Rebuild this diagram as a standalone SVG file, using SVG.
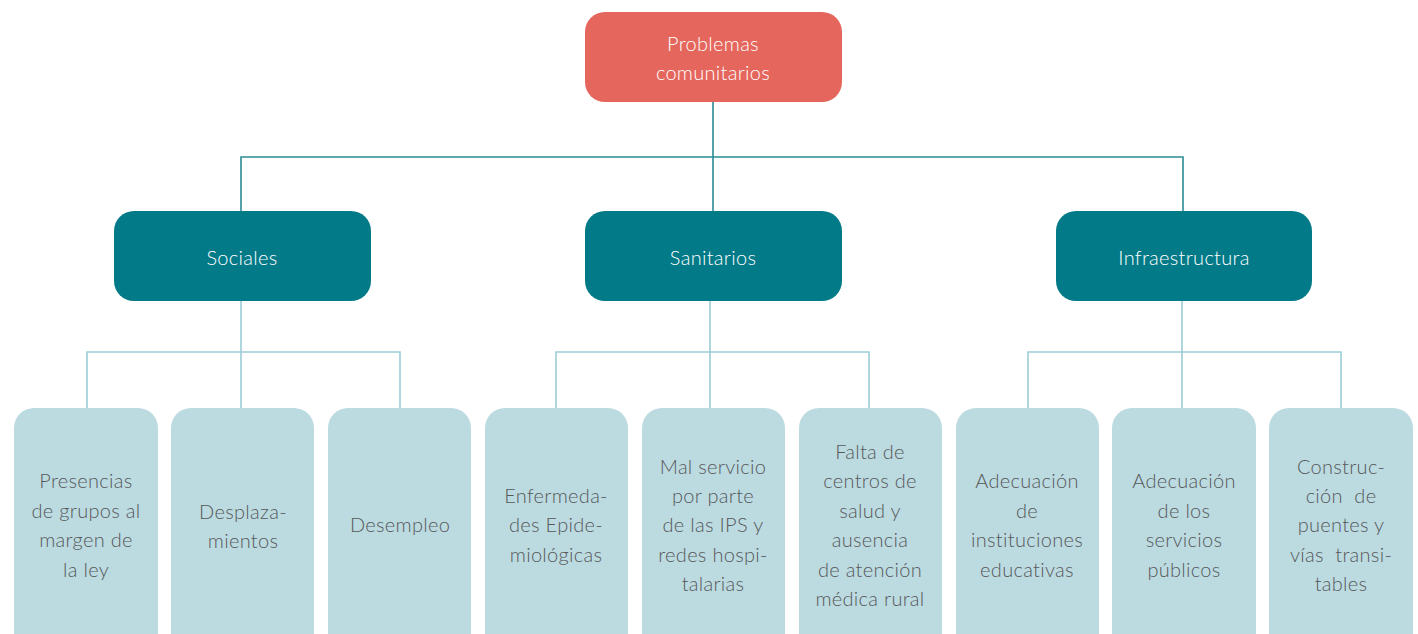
<svg xmlns="http://www.w3.org/2000/svg" width="1418" height="634" viewBox="0 0 1418 634">
<style>
.top{fill:#E5665C}
.mid{fill:#037A87}
.leaf{fill:#BCDBE1}
.tw{fill:#FFFFFF;font-family:Lato,"Liberation Sans",sans-serif;font-size:20px;font-weight:300;letter-spacing:0.3px;text-anchor:middle}
.tl{fill:#57585A;font-family:Lato,"Liberation Sans",sans-serif;font-size:20px;font-weight:300;letter-spacing:0.3px;text-anchor:middle;white-space:pre}
.c1{fill:none;stroke:#2A8C96;stroke-width:1.6}
.c2{fill:none;stroke:#9CCDD6;stroke-width:1.6}
</style>
<rect width="1418" height="634" fill="#FFFFFF"/>
<g id="connectors">
<path class="c1" d="M713 102V211M241 211V157H1183V211"/>
<path class="c2" d="M241 301V408M87 408V352H400V408"/>
<path class="c2" d="M710 301V408M556 408V352H869V408"/>
<path class="c2" d="M1182 301V408M1028 408V352H1341V408"/>
</g>
<g id="n-problemas"><rect class="top" x="585" y="12" width="257" height="90" rx="20"/><text class="tw" x="713" y="51">Problemas</text><text class="tw" x="713" y="80">comunitarios</text></g>
<g id="n-sociales"><rect class="mid" x="114" y="211" width="257" height="90" rx="20"/><text class="tw" x="242" y="265">Sociales</text></g>
<g id="n-sanitarios"><rect class="mid" x="585" y="211" width="257" height="90" rx="20"/><text class="tw" x="713" y="265">Sanitarios</text></g>
<g id="n-infra"><rect class="mid" x="1056" y="211" width="256" height="90" rx="20"/><text class="tw" x="1184" y="265">Infraestructura</text></g>
<g id="n-l1"><rect class="leaf" x="14" y="408" width="144" height="250" rx="20"/><text class="tl" x="86" y="488">Presencias</text><text class="tl" x="86" y="518">de grupos al</text><text class="tl" x="86" y="547">margen de</text><text class="tl" x="86" y="577">la ley</text></g>
<g id="n-l2"><rect class="leaf" x="171" y="408" width="143" height="250" rx="20"/><text class="tl" x="243" y="519">Desplaza-</text><text class="tl" x="243" y="548">mientos</text></g>
<g id="n-l3"><rect class="leaf" x="328" y="408" width="143" height="250" rx="20"/><text class="tl" x="400" y="532">Desempleo</text></g>
<g id="n-l4"><rect class="leaf" x="485" y="408" width="143" height="250" rx="20"/><text class="tl" x="556" y="503">Enfermeda-</text><text class="tl" x="556" y="532">des Epide-</text><text class="tl" x="556" y="562">miológicas</text></g>
<g id="n-l5"><rect class="leaf" x="642" y="408" width="143" height="250" rx="20"/><text class="tl" x="713" y="474">Mal servicio</text><text class="tl" x="713" y="503">por parte</text><text class="tl" x="713" y="532">de las IPS y</text><text class="tl" x="713" y="562">redes hospi-</text><text class="tl" x="713" y="591">talarias</text></g>
<g id="n-l6"><rect class="leaf" x="799" y="408" width="143" height="250" rx="20"/><text class="tl" x="870" y="459">Falta de</text><text class="tl" x="870" y="488">centros de</text><text class="tl" x="870" y="518">salud y</text><text class="tl" x="870" y="547">ausencia</text><text class="tl" x="870" y="577">de atención</text><text class="tl" x="870" y="606">médica rural</text></g>
<g id="n-l7"><rect class="leaf" x="956" y="408" width="143" height="250" rx="20"/><text class="tl" x="1027" y="488">Adecuación</text><text class="tl" x="1027" y="518">de</text><text class="tl" x="1027" y="547">instituciones</text><text class="tl" x="1027" y="577">educativas</text></g>
<g id="n-l8"><rect class="leaf" x="1112" y="408" width="144" height="250" rx="20"/><text class="tl" x="1184" y="488">Adecuación</text><text class="tl" x="1184" y="518">de los</text><text class="tl" x="1184" y="547">servicios</text><text class="tl" x="1184" y="577">públicos</text></g>
<g id="n-l9"><rect class="leaf" x="1269" y="408" width="144" height="250" rx="20"/><text class="tl" x="1341" y="474">Construc-</text><text class="tl" x="1341" y="503">ción  de</text><text class="tl" x="1341" y="532">puentes y</text><text class="tl" x="1341" y="562">vías  transi-</text><text class="tl" x="1341" y="591">tables</text></g>
</svg>
